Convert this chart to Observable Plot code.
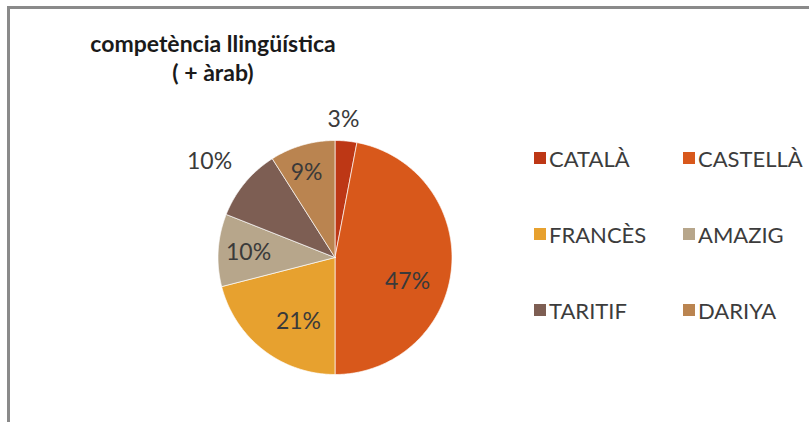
<!DOCTYPE html>
<html>
<head>
<meta charset="utf-8">
<script src="https://cdn.jsdelivr.net/npm/d3@7"></script>
<script src="https://cdn.jsdelivr.net/npm/@observablehq/plot@0.6"></script>
<style>
  body { margin: 0; background: #fff; }
  #wrap { position: relative; width: 809px; height: 422px; overflow: hidden; font-family: Lato, "Open Sans", sans-serif; background: #fff; }
  #wrap > svg { position: absolute; left: 0; top: 0; }
  #frame { position: absolute; left: 7px; top: 6px; right: -10px; bottom: -10px; border-top: 3px solid #8a8a8a; border-left: 3px solid #8a8a8a; pointer-events: none; }
  #title { position: absolute; left: 0; width: 426px; top: 29px; text-align: center; font-weight: bold; font-size: 23px; line-height: 29px; color: #1a1a1a; }
  div.lg-swatches { position: absolute; left: 534px; top: 146px; width: 310px; display: flex; flex-wrap: wrap; font-family: Lato, "Open Sans", sans-serif; font-size: 22px; color: #3c3c3c; margin: 0; min-height: 0; }
  span.lg-swatch { display: inline-flex; align-items: center; width: 149px; height: 24px; margin: 0 0 52px 0; white-space: nowrap; }
  span.lg-swatch > svg { margin-right: 3px; }
</style>
</head>
<body>
<div id="wrap">
  <div id="title">competència llingüística<br>( + àrab)</div>
</div>
<script>
// ---- data ----
const langs = ["CATALÀ", "CASTELLÀ", "FRANCÈS", "AMAZIG", "TARITIF", "DARIYA"];
const values = [3, 47, 21, 10, 10, 9];
const colors = ["#BD3715", "#D8581B", "#E7A12F", "#B7A68B", "#7D5E53", "#BA8450"];
// label placement (radius as fraction of pie radius, angle offset in degrees)
const labelRadius = [1.18, 0.653, 0.63, 0.74, 1.35, 0.766];
const labelAngleOffset = [-1.9, 12.9, -8.1, -0.3, -2.2, -2.3];

// ---- geometry (unit circle, angles clockwise from 12 o'clock) ----
const total = d3.sum(values);
let acc = 0;
const poly = [];
const labels = [];
langs.forEach((lang, i) => {
  const a0 = acc / total * 2 * Math.PI;
  acc += values[i];
  const a1 = acc / total * 2 * Math.PI;
  poly.push({lang, x: 0, y: 0});
  const n = Math.max(2, Math.ceil((a1 - a0) / (Math.PI / 360)));
  for (let k = 0; k <= n; k++) {
    const a = a0 + (a1 - a0) * k / n;
    poly.push({lang, x: Math.sin(a), y: Math.cos(a)});
  }
  poly.push({lang, x: 0, y: 0});
  const m = (a0 + a1) / 2 + labelAngleOffset[i] * Math.PI / 180;
  labels.push({text: values[i] + "%", x: labelRadius[i] * Math.sin(m), y: labelRadius[i] * Math.cos(m)});
});

const cx = 334.5, cy = 257, r = 117;
const chart = Plot.plot({
  width: 809,
  height: 422,
  margin: 0,
  x: {domain: [-1, 1], range: [cx - r, cx + r], axis: null},
  y: {domain: [-1, 1], range: [cy + r, cy - r], axis: null},
  color: {domain: langs, range: colors},
  style: {background: "transparent", overflow: "visible"},
  marks: [
    Plot.line(poly, {x: "x", y: "y", z: "lang", fill: "lang", stroke: "#ffffff", strokeWidth: 0.8, strokeOpacity: 0.85, curve: "linear"}),
    Plot.text(labels, {x: "x", y: "y", text: "text", fontSize: 23, fill: "#3a3a3a", fontFamily: "Lato, 'Open Sans', sans-serif"})
  ]
});
const wrap = document.getElementById("wrap");
wrap.insertBefore(chart, wrap.firstChild);

const legend = Plot.legend({
  color: {type: "ordinal", domain: langs, range: colors},
  legend: "swatches",
  swatchSize: 12,
  className: "lg"
});
wrap.appendChild(legend);
const frame = document.createElement("div");
frame.id = "frame";
wrap.appendChild(frame);
</script>
</body>
</html>
